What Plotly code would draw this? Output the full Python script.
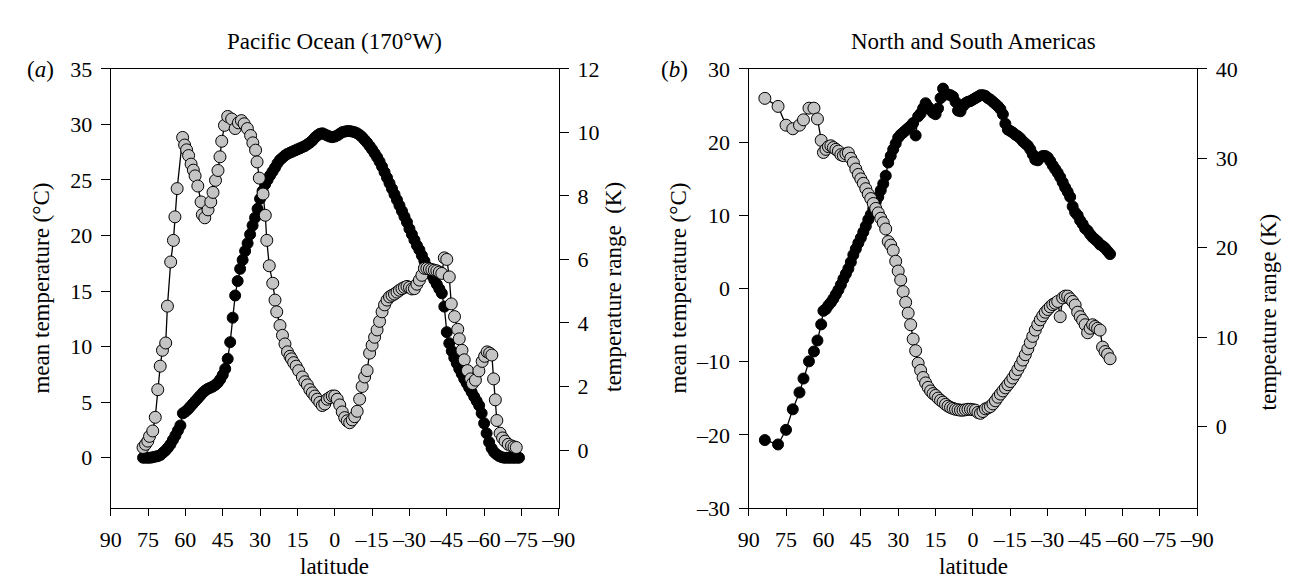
import plotly.graph_objects as go

W, H = 1301, 584

# ---------------- Panel (a): Pacific Ocean (170°W) ----------------
LAT_A_MEAN = [
    77, 76, 75, 74, 73, 72, 71, 70, 69, 68,
    67, 66, 65, 64, 63, 62, 61, 60, 59, 58,
    57, 56, 55, 54, 53, 52, 51, 50, 49, 48,
    47, 46, 45, 44, 43, 42, 41, 40, 39, 38,
    37, 36, 35, 34, 33, 32, 31, 30, 29, 28,
    27, 26, 25, 24, 23, 22, 21, 20, 19, 18,
    17, 16, 15, 14, 13, 12, 11, 10, 9, 8,
    7, 6, 5, 4, 3, 2, 1, 0, -1, -2,
    -3, -4, -5, -6, -7, -8, -9, -10, -11, -12,
    -13, -14, -15, -16, -17, -18, -19, -20, -21, -22,
    -23, -24, -25, -26, -27, -28, -29, -30, -31, -32,
    -33, -34, -35, -36, -37, -38, -39, -40, -41, -42,
    -43, -44, -45, -46, -47, -48, -49, -50, -51, -52,
    -53, -54, -55, -56, -57, -58, -59, -60, -61, -62,
    -63, -64, -65, -66, -67, -68, -69, -70, -71, -72,
    -73, -74,
]
MEAN_A = [
    0.0, 0.0, 0.0, 0.0, 0.05, 0.1, 0.15, 0.25, 0.45, 0.65,
    0.9, 1.2, 1.6, 2.0, 2.45, 2.9, 4.0, 4.15, 4.35, 4.6,
    4.85, 5.1, 5.35, 5.6, 5.85, 6.05, 6.2, 6.3, 6.4, 6.55,
    6.75, 7.05, 7.45, 8.0, 8.9, 10.4, 12.6, 14.6, 15.9, 17.0,
    17.8, 18.6, 19.3, 20.1, 20.9, 21.6, 22.4, 23.3, 24.0, 24.6,
    25.0, 25.4, 25.75, 26.1, 26.5, 26.8, 27.0, 27.2, 27.35, 27.45,
    27.55, 27.65, 27.75, 27.85, 27.95, 28.05, 28.2, 28.35, 28.55, 28.8,
    29.0, 29.15, 29.2, 29.1, 29.0, 28.9, 28.85, 28.9, 29.0, 29.15,
    29.3, 29.35, 29.4, 29.4, 29.35, 29.3, 29.2, 29.05, 28.85, 28.6,
    28.35, 28.05, 27.75, 27.4, 27.05, 26.65, 26.2, 25.7, 25.2, 24.7,
    24.2, 23.7, 23.2, 22.7, 22.2, 21.7, 21.2, 20.6, 20.1, 19.6,
    19.1, 18.7, 18.2, 17.7, 17.2, 16.8, 16.4, 16.0, 15.6, 15.2,
    14.8, 13.6, 11.3, 10.3, 9.6, 9.0, 8.5, 8.0, 7.55, 7.1,
    6.7, 6.3, 5.9, 5.5, 5.1, 4.7, 4.0, 3.1, 2.2, 1.4,
    0.85, 0.5, 0.3, 0.15, 0.05, 0.0, 0.0, 0.0, 0.0, 0.0,
    0.0, 0.0,
]

LAT_A_RANGE = [
    77.0, 76.0, 75.1, 74.4, 73.1, 72.1, 71.1, 70.1, 69.2, 67.9,
    67.2, 65.9, 64.8, 64.2, 63.3, 61.1, 60.3, 59.5, 58.7, 57.7,
    56.8, 56.1, 55.0, 53.7, 53.2, 52.2, 50.9, 49.8, 48.9, 47.9,
    46.9, 46.1, 45.4, 44.3, 43.0, 41.4, 40.0, 38.7, 37.5, 36.4,
    35.1, 33.8, 32.9, 31.8, 31.2, 30.3, 28.8, 27.9, 27.3, 26.3,
    24.9, 24.0, 23.3, 22.0, 21.0, 20.0, 19.0, 18.0, 17.4, 16.5,
    15.5, 14.5,
    13, 12, 11, 10, 9, 8, 7, 6, 5, 4,
    3, 2, 1, 0, -1, -2, -3, -4, -5, -6,
    -7, -8, -9, -10, -11, -12, -13, -14, -15, -16,
    -17, -18, -19, -20, -21, -22, -23, -24, -25, -26,
    -27, -28, -29, -30, -31, -32, -33, -34, -35, -36,
    -37, -38, -39, -40, -41, -42, -43, -44, -45, -46,
    -46.8, -48.1, -49.4, -50.0, -51.1, -52.0, -53.3, -54.6, -55.3, -56.5,
    -57.9, -59.2, -60.2, -61.2, -62.2, -63.1, -63.8, -64.5, -65.1, -66.4,
    -67.4, -68.4, -69.7, -71.0, -72.0, -72.9,
]
RANGE_A = [
    0.08, 0.18, 0.28, 0.43, 0.6, 1.03, 1.9, 2.64, 3.14, 3.37,
    4.53, 5.92, 6.6, 7.34, 8.23, 9.84, 9.6, 9.45, 9.27, 9.0,
    8.81, 8.63, 8.31, 7.81, 7.41, 7.31, 7.56, 7.81, 8.11, 8.49,
    8.8, 9.23, 9.72, 10.22, 10.5, 10.42, 10.12, 10.3, 10.37, 10.27,
    10.12, 9.9, 9.67, 9.44, 9.07, 8.56, 8.06, 7.39, 6.6, 5.8,
    5.25, 4.72, 4.35, 3.92, 3.61, 3.34, 3.09, 2.95, 2.87, 2.75,
    2.64, 2.5,
    2.3, 2.15, 2.05, 1.9, 1.8, 1.7, 1.6, 1.5, 1.4, 1.45,
    1.6, 1.65, 1.7, 1.7, 1.6, 1.42, 1.2, 1.02, 0.92, 0.86,
    0.95, 1.05, 1.22, 1.6, 2.0, 2.3, 2.5, 3.05, 3.3, 3.55,
    3.78, 4.05, 4.35, 4.57, 4.72, 4.82, 4.87, 4.91, 4.97, 5.03,
    5.08, 5.12, 5.15, 5.12, 5.07, 5.08, 5.22, 5.35, 5.5, 5.72,
    5.72, 5.7, 5.68, 5.66, 5.64, 5.6, 5.56, 6.05, 6.0, 5.45,
    4.6, 4.2, 3.8, 3.5, 3.14, 2.84, 2.5, 2.24, 2.09, 2.2,
    2.49, 2.79, 2.95, 3.09, 3.05, 2.99, 2.24, 1.58, 0.93, 0.53,
    0.38, 0.28, 0.18, 0.13, 0.1, 0.08,
]

# ---------------- Panel (b): North and South Americas ----------------
LAT_B = [
    83.5, 78.2, 75.0, 72.3, 69.6, 68.0, 65.8, 63.8, 62.4, 60.9,
    60, 59, 58, 57, 56, 55, 54, 53, 52, 51,
    50, 49, 48, 47, 46, 45, 44, 43, 42, 41,
    40, 39, 38, 37, 36, 35, 34, 33, 32, 31,
    30, 29, 28, 27, 26, 25, 24, 23, 22, 21,
    20, 19, 18, 17, 16, 15, 14, 13, 12, 11,
    10, 9, 8, 7, 6, 5, 4, 3, 2, 1,
    0, -1, -2, -3, -4, -5, -6, -7, -8, -9,
    -10, -11, -12, -13, -14, -15, -16, -17, -18, -19,
    -20, -21, -22, -23, -24, -25, -26, -27, -28, -29,
    -30, -31, -32, -33, -34, -35, -36, -37, -38, -39,
    -40, -41, -42, -43, -44, -45, -46, -47, -48, -49,
    -50, -51, -52, -53, -54, -55,
]
MEAN_B = [
    -20.7, -21.3, -19.3, -16.5, -14.2, -12.3, -9.95, -8.6, -7.1, -4.9,
    -3.05, -2.8, -2.3, -1.9, -1.4, -0.8, -0.2, 0.5, 1.3, 2.0,
    2.7, 3.6, 4.6, 5.4, 6.2, 6.9, 7.7, 8.5, 9.4, 10.1,
    10.9, 11.8, 12.5, 13.4, 14.3, 15.4, 17.2, 18.1, 19.0, 19.8,
    20.6, 21.0, 21.3, 21.6, 21.9, 22.2, 22.6, 20.9, 23.5, 23.9,
    24.6, 25.3, 24.8, 24.4, 24.0, 23.8, 24.6, 26.0, 27.3, 26.5,
    26.5, 26.4, 26.2, 25.5, 24.3, 24.2, 24.9, 25.3, 25.5, 25.6,
    25.8, 26.0, 26.2, 26.4, 26.4, 26.3, 26.0, 25.8, 25.5, 25.2,
    24.9, 24.5, 23.8, 22.5, 21.7, 21.5, 21.3, 21.0, 20.8, 20.5,
    20.1, 19.8, 19.5, 19.0, 18.3, 17.6, 17.5, 17.9, 18.1, 18.1,
    17.9, 17.4, 16.8, 16.3, 15.8, 15.2, 14.5, 13.8, 13.2, 12.5,
    11.2, 10.4, 10.0, 9.3, 8.8, 8.2, 7.9, 7.4, 7.0, 6.7,
    6.4, 6.0, 5.8, 5.5, 5.1, 4.7,
]
RANGE_B = [
    36.7, 35.8, 33.7, 33.3, 33.7, 34.3, 35.6, 35.6, 34.4, 32.0,
    30.65, 31.0, 31.3, 31.4, 31.2, 31.0, 30.8, 30.4, 30.3, 30.5,
    30.6, 30.0, 29.5, 28.8, 28.2, 27.7, 27.2, 26.6, 26.0, 25.5,
    24.95, 24.4, 23.9, 23.3, 22.8, 22.1, 20.7, 20.3, 19.7, 18.5,
    17.4, 16.4, 15.1, 13.9, 12.7, 11.4, 9.8, 8.5, 7.1, 6.3,
    5.5, 4.9, 4.4, 4.0, 3.7, 3.5, 3.2, 2.95, 2.75, 2.5,
    2.3, 2.15, 2.05, 1.95, 1.9, 1.85, 1.85, 1.9, 1.95, 1.95,
    1.9, 1.85, 1.6, 1.5, 1.7, 2.0, 2.1, 2.25, 2.55, 2.9,
    3.3, 3.65, 4.0, 4.35, 4.7, 5.05, 5.45, 5.9, 6.4, 6.9,
    7.45, 8.05, 8.7, 9.4, 10.1, 10.8, 11.4, 11.95, 12.4, 12.8,
    13.1, 13.4, 13.65, 13.8, 14.0, 12.3, 14.4, 14.6, 14.6, 14.3,
    14.0, 13.6, 12.8, 12.3, 11.9, 11.4, 10.5, 11.0, 11.4, 11.2,
    11.0, 10.8, 8.9, 8.4, 8.1, 7.6,
]

# ---------------- Tick labels ----------------
X_TICKS = [90, 75, 60, 45, 30, 15, 0, -15, -30, -45, -60, -75, -90]
X_TEXT = ["90", "75", "60", "45", "30", "15", "0", "–15", "–30", "–45", "–60", "–75", "–90"]
YA_TICKS = [0, 5, 10, 15, 20, 25, 30, 35]
YA2_TICKS = [0, 2, 4, 6, 8, 10, 12]
YB_TICKS = [-30, -20, -10, 0, 10, 20, 30]
YB_TEXT = ["–30", "–20", "–10", "0", "10", "20", "30"]
YB2_TICKS = [0, 10, 20, 30, 40]

FONT = "Liberation Serif"
TICK_FS = 22
TEXT_FS = 23
GRAY = "#c4c4c4"


def px(x):
    return x / W


def py(y):
    return 1 - y / H


fig = go.Figure()

black_style = dict(mode="lines+markers",
                   line=dict(color="black", width=1.3),
                   marker=dict(size=11, color="black", line=dict(color="black", width=1)),
                   showlegend=False, hoverinfo="skip")
gray_style = dict(mode="lines+markers",
                  line=dict(color="black", width=1.3),
                  marker=dict(size=12, color=GRAY, line=dict(color="black", width=1)),
                  showlegend=False, hoverinfo="skip")

fig.add_trace(go.Scatter(x=LAT_A_MEAN, y=MEAN_A, xaxis="x", yaxis="y", **black_style))
fig.add_trace(go.Scatter(x=LAT_A_RANGE, y=RANGE_A, xaxis="x", yaxis="y2", **gray_style))
fig.add_trace(go.Scatter(x=LAT_B, y=MEAN_B, xaxis="x2", yaxis="y3", **black_style))
fig.add_trace(go.Scatter(x=LAT_B, y=RANGE_B, xaxis="x2", yaxis="y4", **gray_style))

axis_common = dict(showline=True, linecolor="black", linewidth=1.3,
                   ticks="outside", tickcolor="black", tickwidth=1.3, ticklen=9,
                   showgrid=False, zeroline=False, fixedrange=True,
                   tickfont=dict(family=FONT, size=TICK_FS, color="black"))

YDOM = [1 - 510 / H, 1 - 51 / H]
XA_DOM = [93.7 / W, 551.7 / W]
XB_DOM = [745.7 / W, 1204.2 / W]

x_common = dict(axis_common, ticklen=7, mirror=True, range=[90, -90],
                tickmode="array", tickvals=X_TICKS, ticktext=X_TEXT,
                tickangle=0, ticklabelstandoff=4)

fig.update_layout(
    width=W, height=H,
    margin=dict(l=0, r=0, t=0, b=0),
    paper_bgcolor="white", plot_bgcolor="white",
    showlegend=False,
    xaxis=dict(x_common, domain=XA_DOM, anchor="y"),
    yaxis=dict(axis_common, domain=YDOM, anchor="x", range=[-4.54, 35],
               tickmode="array", tickvals=YA_TICKS, ticklabelstandoff=4),
    yaxis2=dict(axis_common, overlaying="y", side="right", anchor="x",
                range=[-1.83, 12], tickmode="array", tickvals=YA2_TICKS,
                ticklabelstandoff=4),
    xaxis2=dict(x_common, domain=XB_DOM, anchor="y3"),
    yaxis3=dict(axis_common, domain=YDOM, anchor="x2", range=[-30, 30],
                tickmode="array", tickvals=YB_TICKS, ticktext=YB_TEXT,
                ticklabelstandoff=4),
    yaxis4=dict(axis_common, overlaying="y3", side="right", anchor="x2",
                range=[-9.1, 40], tickmode="array", tickvals=YB2_TICKS,
                ticklabelstandoff=4),
)

ann_font = dict(family=FONT, size=TEXT_FS, color="black")


def add_text(text, x, y, angle=0):
    fig.add_annotation(text=text, x=px(x), y=py(y), xref="paper", yref="paper",
                       showarrow=False, xanchor="center", yanchor="middle",
                       textangle=angle, font=ann_font)


add_text("Pacific Ocean (170°W)", 322.7, 22)
add_text("North and South Americas", 975, 22)
add_text("(<i>a</i>)", 22, 52)
add_text("(<i>b</i>)", 670, 52)
add_text("latitude", 322.7, 571)
add_text("latitude", 975, 571)
add_text("mean temperature (°C)", 22, 280, -90)
add_text("temperature range  (K)", 607, 279, -90)
add_text("mean temperature (°C)", 674, 280, -90)
add_text("tempeature range (K)", 1277, 305, -90)

fig.write_html("out.html")
